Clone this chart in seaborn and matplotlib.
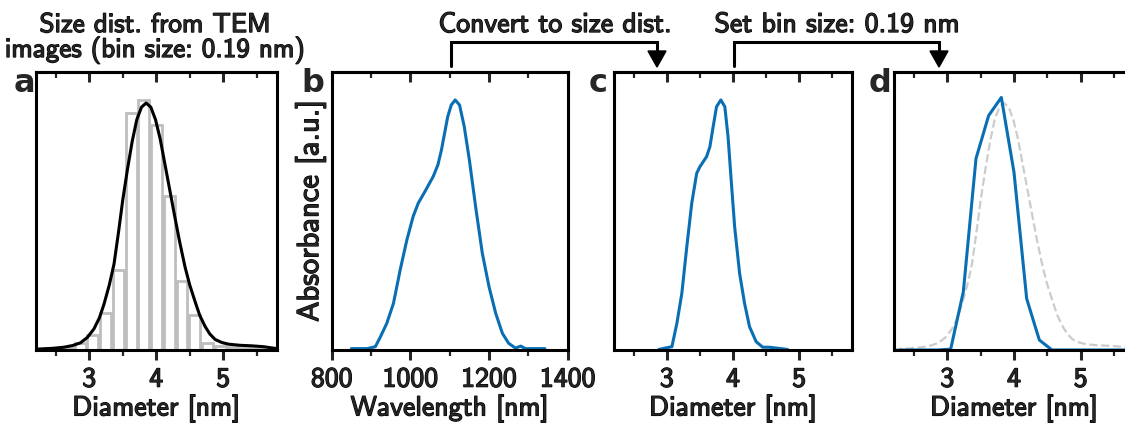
import matplotlib
matplotlib.use('Agg')
import numpy as np
import matplotlib.pyplot as plt
import matplotlib.patheffects as pe
import seaborn as sns
from matplotlib.lines import Line2D
from matplotlib.ticker import MultipleLocator

# -------------------------
# Data (y in fraction of axis height)
# -------------------------
# a: TEM size histogram, bin size 0.19 nm
tem_bin_start = 2.58
tem_bin_size = 0.19
tem_centers = [2.675, 2.865, 3.055, 3.245, 3.435, 3.625, 3.815, 4.005,
               4.195, 4.385, 4.575, 4.765, 4.955, 5.145, 5.335, 5.525]
tem_counts = [0.008, 0.024, 0.054, 0.132, 0.29, 0.855, 0.90, 0.81,
              0.555, 0.25, 0.126, 0.025, 0.014, 0.012, 0.008, 0.006]

# a (and d, dashed): fit to the TEM histogram
fit_diam = [2.20, 2.45, 2.62, 2.75, 2.87, 2.97, 3.07, 3.15, 3.22, 3.30,
            3.37, 3.44, 3.50, 3.57, 3.64, 3.71, 3.78, 3.85, 3.92, 3.99,
            4.06, 4.13, 4.20, 4.27, 4.35, 4.43, 4.50, 4.58, 4.65, 4.73,
            4.80, 4.88, 4.98, 5.08, 5.25, 5.43, 5.60, 5.80]
fit_val = [0.003, 0.006, 0.010, 0.016, 0.026, 0.045, 0.076, 0.115, 0.165, 0.235,
           0.31, 0.43, 0.54, 0.65, 0.75, 0.83, 0.875, 0.89, 0.875, 0.83,
           0.76, 0.67, 0.58, 0.49, 0.39, 0.30, 0.235, 0.175, 0.125, 0.085,
           0.058, 0.038, 0.027, 0.021, 0.017, 0.015, 0.012, 0.005]

# b: absorbance spectrum
wavelength = [850, 890, 911, 924, 940, 957, 974, 991, 1007, 1020,
              1037, 1058, 1070, 1079, 1087, 1095, 1104, 1114, 1125, 1137,
              1150, 1167, 1183, 1200, 1217, 1234, 1250, 1267, 1281, 1292, 1342]
absorbance = [0.005, 0.005, 0.012, 0.048, 0.096, 0.168, 0.288, 0.396, 0.481, 0.529,
              0.571, 0.625, 0.667, 0.721, 0.781, 0.841, 0.883, 0.901, 0.883, 0.805,
              0.685, 0.505, 0.348, 0.228, 0.132, 0.060, 0.024, 0.007, 0.014, 0.005, 0.005]

# c: spectrum converted to size distribution
conv_diam = [2.876, 3.076, 3.151, 3.226, 3.301, 3.376, 3.451, 3.501, 3.601, 3.651,
             3.70, 3.751, 3.816, 3.876, 3.925, 3.976, 4.025, 4.10, 4.175, 4.25,
             4.35, 4.45, 4.55, 4.825]
conv_val = [0.002, 0.012, 0.096, 0.204, 0.372, 0.529, 0.637, 0.661, 0.697, 0.733,
            0.805, 0.877, 0.901, 0.877, 0.769, 0.601, 0.444, 0.276, 0.168, 0.084,
            0.030, 0.010, 0.010, 0.002]

# d: converted distribution rebinned to 0.19 nm
binned_diam = [2.29, 2.48, 2.67, 2.86, 3.05, 3.24, 3.43, 3.62, 3.81, 4.00,
               4.19, 4.38, 4.57, 4.76, 4.95, 5.14, 5.33, 5.52, 5.71, 5.90]
binned_val = [0, 0, 0, 0, 0.003, 0.21, 0.69, 0.845, 0.91, 0.64,
              0.185, 0.036, 0, 0, 0, 0, 0, 0, 0, 0]

BLUE = '#0a6eb4'
GRAY = '#bebebe'

sns.set_style('white')
plt.rcParams['font.family'] = ['cmss10', 'DejaVu Sans']
plt.rcParams['axes.unicode_minus'] = False
FS = 20
BOLDISH = [pe.withStroke(linewidth=0.9, foreground='k')]

W, H = 1125, 423
fig = plt.figure(figsize=(W / 100, H / 100), dpi=100)


def box(left, width):
    return [left / W, (H - 350) / H, width / W, 277.5 / H]


def fx(x):
    return x / W


def fy(y):
    return 1 - y / H


def style_axis(ax, xlim, major, minor):
    ax.set_xlim(*xlim)
    ax.set_ylim(0, 1)
    ax.set_yticks([])
    ax.set_xticks(major)
    ax.xaxis.set_minor_locator(MultipleLocator(minor))
    ax.tick_params(axis='x', which='major', direction='out', length=7,
                   width=2.2, labelsize=FS, pad=5, bottom=True)
    ax.tick_params(axis='x', which='minor', direction='out', length=4.5,
                   width=1.6, bottom=True)
    for lbl in ax.get_xticklabels():
        lbl.set_path_effects(BOLDISH)
    for s in ax.spines.values():
        s.set_visible(True)
        s.set_linewidth(2.2)
        s.set_color('k')
    top = ax.secondary_xaxis('top')
    top.set_xticks(major)
    top.xaxis.set_minor_locator(MultipleLocator(minor))
    top.tick_params(axis='x', which='major', direction='in', length=7,
                    width=2.2, labeltop=False, top=True)
    top.tick_params(axis='x', which='minor', direction='in', length=4.5,
                    width=1.6, top=True)
    top.spines['top'].set_linewidth(2.2)


ax_a = fig.add_axes(box(35.7, 241))
ax_b = fig.add_axes(box(331.7, 236))
ax_c = fig.add_axes(box(614, 238))
ax_d = fig.add_axes(box(894, 240))

# -------------------------
# a: histogram + fit
# -------------------------
sns.histplot(x=tem_centers, weights=tem_counts, binwidth=tem_bin_size,
             binrange=(tem_bin_start, tem_bin_start + tem_bin_size * len(tem_centers)),
             shrink=0.86, fill=False, color=GRAY, linewidth=2.0, ax=ax_a)
sns.lineplot(x=fit_diam, y=fit_val, color='k', linewidth=2.2, estimator=None, ax=ax_a)
style_axis(ax_a, (2.2, 5.8), [3, 4, 5], 0.5)
ax_a.set_ylabel('')
ax_a.set_xlabel('Diameter [nm]', fontsize=FS, labelpad=2, path_effects=BOLDISH)

# -------------------------
# b: absorbance spectrum
# -------------------------
sns.lineplot(x=wavelength, y=absorbance, color=BLUE, linewidth=2.2, estimator=None, ax=ax_b)
style_axis(ax_b, (800, 1400), [800, 1000, 1200, 1400], 100)
ax_b.set_xlabel('Wavelength [nm]', fontsize=FS, labelpad=2, path_effects=BOLDISH)
ax_b.set_ylabel('Absorbance [a.u.]', fontsize=22, labelpad=4, path_effects=BOLDISH)

# -------------------------
# c: converted size distribution
# -------------------------
sns.lineplot(x=conv_diam, y=conv_val, color=BLUE, linewidth=2.2, estimator=None, ax=ax_c)
style_axis(ax_c, (2.2, 5.8), [3, 4, 5], 0.5)
ax_c.set_xlabel('Diameter [nm]', fontsize=FS, labelpad=2, path_effects=BOLDISH)

# -------------------------
# d: rebinned distribution vs TEM fit
# -------------------------
sns.lineplot(x=fit_diam, y=fit_val, color='#cccccc', linewidth=1.6, linestyle='--',
             estimator=None, ax=ax_d)
sns.lineplot(x=binned_diam, y=binned_val, color=BLUE, linewidth=2.2, estimator=None, ax=ax_d)
style_axis(ax_d, (2.2, 5.8), [3, 4, 5], 0.5)
ax_d.set_xlabel('Diameter [nm]', fontsize=FS, labelpad=2, path_effects=BOLDISH)

# panel letters
for lab, xr in [('a', 35), ('b', 324), ('c', 608), ('d', 891)]:
    fig.text(fx(xr), fy(92), lab, ha='right', va='baseline', fontsize=23,
             fontweight='bold', family='DejaVu Sans')

# header texts
fig.text(fx(155), fy(57), 'Size dist. from TEM\nimages (bin size: 0.19 nm)',
         ha='center', va='baseline', fontsize=19.5, linespacing=0.95,
         path_effects=BOLDISH)
fig.text(fx(555), fy(32), 'Convert to size dist.', ha='center', va='baseline',
         fontsize=FS, path_effects=BOLDISH)
fig.text(fx(837), fy(32), 'Set bin size: 0.19 nm', ha='center', va='baseline',
         fontsize=FS, path_effects=BOLDISH)

# brackets with arrows
for x0, x1 in [(451, 657), (734, 939)]:
    fig.add_artist(Line2D([fx(x0), fx(x0), fx(x1), fx(x1)],
                          [fy(66), fy(42), fy(42), fy(50)],
                          color='k', lw=2.2, transform=fig.transFigure,
                          solid_joinstyle='miter'))
    fig.add_artist(plt.Polygon([[fx(x1 - 9), fy(51)], [fx(x1 + 9), fy(51)], [fx(x1), fy(67)]],
                               closed=True, color='k', transform=fig.transFigure))

plt.savefig('out.png', dpi=100)
